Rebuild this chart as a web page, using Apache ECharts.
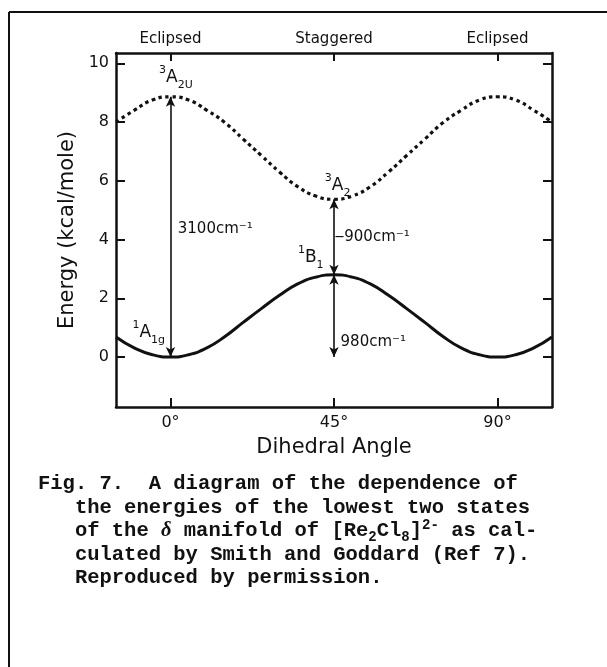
<!DOCTYPE html>
<html>
<head>
<meta charset="utf-8">
<script src="https://cdn.jsdelivr.net/npm/echarts@6/dist/echarts.min.js"></script>
<style>
  html, body { margin: 0; padding: 0; background: #fff; }
  #chart { width: 607px; height: 667px; }
</style>
</head>
<body>
<div id="chart"></div>
<script>
// Dihedral angle (degrees) at which the two state energies are sampled
const angles = [-15, -10, -5, 0, 5, 10, 15, 20, 25, 30, 35, 40, 45, 50, 55, 60, 65, 70, 75, 80, 85, 90, 95, 100, 105];
// Ground state 1A1g / 1B1 energy, kcal/mole
const groundState = [0.68, 0.31, 0.08, 0, 0.08, 0.31, 0.70, 1.18, 1.65, 2.10, 2.49, 2.72, 2.80, 2.72, 2.49, 2.10, 1.65, 1.18, 0.70, 0.31, 0.08, 0, 0.08, 0.31, 0.68];
// Triplet state 3A2u / 3A2 energy, kcal/mole
const tripletState = [8.00, 8.40, 8.75, 8.86, 8.75, 8.40, 7.98, 7.42, 6.86, 6.30, 5.80, 5.48, 5.37, 5.48, 5.80, 6.30, 6.86, 7.42, 7.98, 8.40, 8.75, 8.86, 8.75, 8.40, 8.00];

// Tick positions and labels
const angleTicks = [0, 45, 90];
const conformations = ['Eclipsed', 'Staggered', 'Eclipsed'];
const energyTicks = [0, 2, 4, 6, 8, 10];

// Energy gaps in cm^-1 shown as vertical arrows
const gapsCm = [3100, 980, 900];
const CM_PER_KCAL = 349.755;
const toKcal = cm => cm / CM_PER_KCAL;

const gap0 = toKcal(gapsCm[0]);          // 1A1g -> 3A2u at 0 deg
const gapB1 = toKcal(gapsCm[1]);         // 1B1 above 1A1g minimum
const gapA2 = gapB1 + toKcal(gapsCm[2]); // 3A2 above 1A1g minimum

const ink = '#111';
const letterFont = 'DejaVu Sans';

const termStyles = {
  sup: { fontSize: 11, fontFamily: letterFont, color: ink, verticalAlign: 'top', lineHeight: 26 },
  big: { fontSize: 17, fontFamily: letterFont, color: ink, verticalAlign: 'middle', lineHeight: 26 },
  sub: { fontSize: 11, fontFamily: letterFont, color: ink, verticalAlign: 'bottom', lineHeight: 26 }
};

function note(x, y, text, align) {
  return {
    value: [x, y],
    label: {
      show: true,
      position: 'inside',
      align: align || 'center',
      verticalAlign: 'middle',
      formatter: text,
      fontSize: 15,
      fontFamily: letterFont,
      color: ink,
      opacity: 1,
      rich: termStyles
    }
  };
}

const notes = [
  note(1.5, 9.5, '{sup|3}{big|A}{sub|2U}'),
  note(2, 4.35, '3100cm⁻¹', 'left'),
  note(46, 5.85, '{sup|3}{big|A}{sub|2}'),
  note(45.2, 4.1, '‒900cm⁻¹', 'left'),
  note(38.6, 3.37, '{sup|1}{big|B}{sub|1}'),
  note(46.8, 0.5, '980cm⁻¹', 'left'),
  note(-6, 0.82, '{sup|1}{big|A}{sub|1g}')
];

const chart = echarts.init(document.getElementById('chart'), null, { renderer: 'canvas' });

const axisLine = { onZero: false, lineStyle: { color: ink, width: 2.5 } };

const option = {
  backgroundColor: '#fff',
  animation: false,
  grid: { left: 116, right: 55, top: 53, bottom: 260, containLabel: false },
  xAxis: [
    {
      type: 'value', position: 'bottom', min: -15, max: 105,
      axisLine: axisLine,
      axisTick: { inside: true, length: 9, customValues: angleTicks, lineStyle: { color: ink, width: 2 } },
      axisLabel: { customValues: angleTicks, formatter: v => v + '°', fontSize: 16, fontFamily: letterFont, color: ink, margin: 8 },
      splitLine: { show: false },
      name: 'Dihedral Angle', nameLocation: 'middle', nameGap: 30,
      nameTextStyle: { fontSize: 21, fontFamily: letterFont, color: ink }
    },
    {
      type: 'value', position: 'top', min: -15, max: 105,
      axisLine: axisLine,
      axisTick: { inside: true, length: 8, customValues: angleTicks, lineStyle: { color: ink, width: 2 } },
      axisLabel: {
        customValues: angleTicks,
        formatter: v => conformations[angleTicks.indexOf(v)],
        fontSize: 15, fontFamily: letterFont, color: ink, margin: 6
      },
      splitLine: { show: false }
    }
  ],
  yAxis: [
    {
      type: 'value', position: 'left', min: -1.7, max: 10.35,
      axisLine: axisLine,
      axisTick: { inside: true, length: 9, customValues: energyTicks, lineStyle: { color: ink, width: 2 } },
      axisLabel: { customValues: energyTicks, fontSize: 16, fontFamily: letterFont, color: ink, margin: 7 },
      splitLine: { show: false },
      name: 'Energy (kcal/mole)', nameLocation: 'middle', nameRotate: 90, nameGap: 33,
      nameTextStyle: { fontSize: 21, fontFamily: letterFont, color: ink }
    },
    {
      type: 'value', position: 'right', min: -1.7, max: 10.35,
      axisLine: axisLine,
      axisTick: { inside: true, length: 9, customValues: energyTicks, lineStyle: { color: ink, width: 2 } },
      axisLabel: { show: false },
      splitLine: { show: false }
    }
  ],
  series: [
    {
      name: 'ground', type: 'line', smooth: 0.5, showSymbol: false, symbol: 'none',
      data: angles.map((a, i) => [a, groundState[i]]),
      lineStyle: { color: ink, width: 3 },
      markLine: {
        silent: true, symbol: ['arrow', 'arrow'], symbolSize: [7, 10],
        label: { show: false },
        lineStyle: { color: ink, width: 1.6, type: 'solid' },
        data: [
          [{ coord: [0, 0] }, { coord: [0, gap0] }],
          [{ coord: [45, 0] }, { coord: [45, gapB1] }],
          [{ coord: [45, gapB1] }, { coord: [45, gapA2] }]
        ]
      }
    },
    {
      name: 'triplet', type: 'line', smooth: 0.5, showSymbol: false, symbol: 'none',
      data: angles.map((a, i) => [a, tripletState[i]]),
      lineStyle: { color: ink, width: 3.2, type: [3.5, 3.5] }
    },
    {
      name: 'notes', type: 'scatter', symbolSize: 0, silent: true,
      itemStyle: { opacity: 1 },
      data: notes
    }
  ],
  graphic: [
    // page frame
    { type: 'line', shape: { x1: 9, y1: 12, x2: 607, y2: 12 }, style: { stroke: ink, lineWidth: 2 } },
    { type: 'line', shape: { x1: 9, y1: 12, x2: 9, y2: 667 }, style: { stroke: ink, lineWidth: 2 } }
  ]
};

// Figure caption, typewriter style
const capFont = 'Liberation Mono';
const capSize = 20.5;
const capCharW = capSize * 0.6;
const capX = 38;
const capY = 484;
const capLead = 23.5;
const capRich = {
  i: { fontFamily: 'Liberation Serif', fontStyle: 'italic', fontWeight: 'bold', fontSize: capSize, fill: ink },
  sub: { fontFamily: capFont, fontWeight: 'bold', fontSize: 14, fill: ink, verticalAlign: 'bottom', lineHeight: 26 },
  sup: { fontFamily: capFont, fontWeight: 'bold', fontSize: 14, fill: ink, verticalAlign: 'top', lineHeight: 26 },
  n: { fontFamily: capFont, fontWeight: 'bold', fontSize: capSize, fill: ink, verticalAlign: 'middle', lineHeight: 26 }
};
const captionLines = [
  'Fig. 7.  A diagram of the dependence of',
  'the energies of the lowest two states',
  '{n|of the }{i|δ}{n| manifold of [Re}{sub|2}{n|Cl}{sub|8}{n|]}{sup|2-}{n| as cal-}',
  'culated by Smith and Goddard (Ref 7).',
  'Reproduced by permission.'
];
captionLines.forEach((t, i) => {
  option.graphic.push({
    type: 'text',
    x: i === 0 ? capX : capX + 3 * capCharW,
    y: capY + i * capLead,
    style: {
      text: t,
      font: 'bold ' + capSize + 'px "' + capFont + '"',
      fill: ink,
      verticalAlign: 'middle',
      rich: capRich
    }
  });
});

chart.setOption(option);
</script>
</body>
</html>
